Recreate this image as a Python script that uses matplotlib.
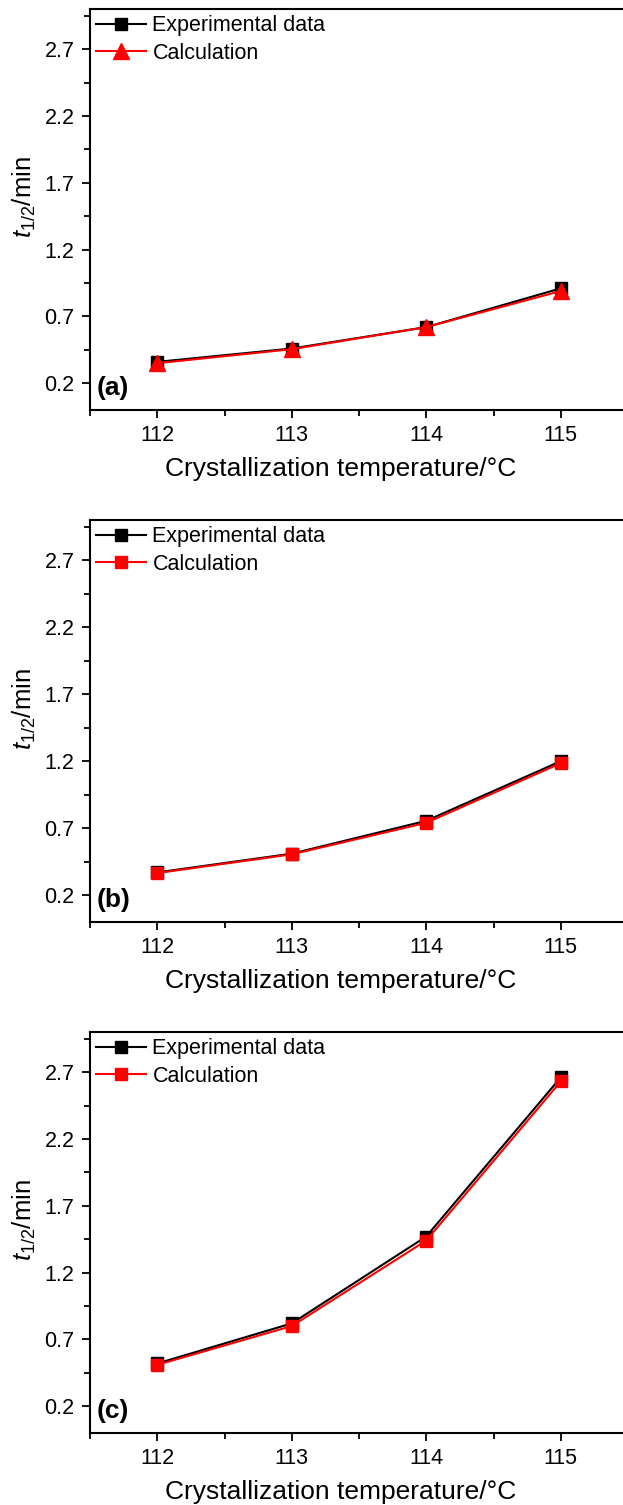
import matplotlib
matplotlib.use("Agg")
from matplotlib import pyplot as plt
from matplotlib.ticker import MultipleLocator, FixedLocator

plt.rcParams['font.family'] = ['Liberation Sans', 'DejaVu Sans']
plt.rcParams['mathtext.fontset'] = 'custom'
plt.rcParams['mathtext.rm'] = 'Liberation Sans'
plt.rcParams['mathtext.it'] = 'Liberation Sans:italic'

temps = [112, 113, 114, 115]

exp_a = [0.36, 0.46, 0.62, 0.91]
calc_a = [0.35, 0.455, 0.62, 0.89]

exp_b = [0.37, 0.51, 0.755, 1.20]
calc_b = [0.365, 0.505, 0.74, 1.185]

exp_c = [0.52, 0.82, 1.47, 2.66]
calc_c = [0.51, 0.80, 1.44, 2.63]

panels = [
    ('(a)', exp_a, calc_a, '^'),
    ('(b)', exp_b, calc_b, 's'),
    ('(c)', exp_c, calc_c, 's'),
]

W, H = 623, 1505
fig = plt.figure(figsize=(W / 100, H / 100), dpi=100)

# axes boxes in pixels: top, bottom
boxes = [(9, 410), (520, 922), (1032, 1433)]
left_px, right_px = 90, 628

for (label, exp, calc, calc_marker), (top, bot) in zip(panels, boxes):
    ax = fig.add_axes([left_px / W, 1 - bot / H, (right_px - left_px) / W, (bot - top) / H])

    ax.plot(temps, exp, color='black', lw=1.5, marker='s', ms=8.5,
            mfc='black', mec='black', label='Experimental data')
    ms = 11 if calc_marker == '^' else 8.5
    ax.plot(temps, calc, color='red', lw=1.5, marker=calc_marker, ms=ms,
            mfc='red', mec='red', label='Calculation')

    ax.set_xlim(111.5, 115.5)
    ax.set_ylim(0.0, 3.0)
    ax.xaxis.set_major_locator(FixedLocator(temps))
    ax.xaxis.set_minor_locator(MultipleLocator(0.5))
    ax.yaxis.set_major_locator(FixedLocator([0.2, 0.7, 1.2, 1.7, 2.2, 2.7]))
    ax.yaxis.set_minor_locator(FixedLocator([0.45, 0.95, 1.45, 1.95, 2.45, 2.95]))
    ax.set_yticklabels(['0.2', '0.7', '1.2', '1.7', '2.2', '2.7'])

    ax.tick_params(which='both', direction='out', top=False, right=False,
                   labelsize=15.5, width=1.3, pad=5)
    ax.tick_params(which='major', length=6)
    ax.tick_params(which='minor', length=4)
    for s in ax.spines.values():
        s.set_linewidth(1.5)

    ax.set_xlabel('Crystallization temperature/°C', fontsize=19)
    ax.xaxis.set_label_coords(0.466, -0.117)
    ax.set_ylabel('$t_{1/2}$/min', fontsize=18.5)
    ax.yaxis.set_label_coords(-0.097, 0.53)

    ax.text(0.012, 0.025, label, transform=ax.transAxes, fontsize=19,
            fontweight='bold', ha='left', va='bottom')

    ax.legend(loc='upper left', frameon=False, fontsize=15.5, handlelength=2.3,
              borderaxespad=0.15, handletextpad=0.3, labelspacing=0.3,
              borderpad=0.15)

fig.savefig('out.png', dpi=100)
